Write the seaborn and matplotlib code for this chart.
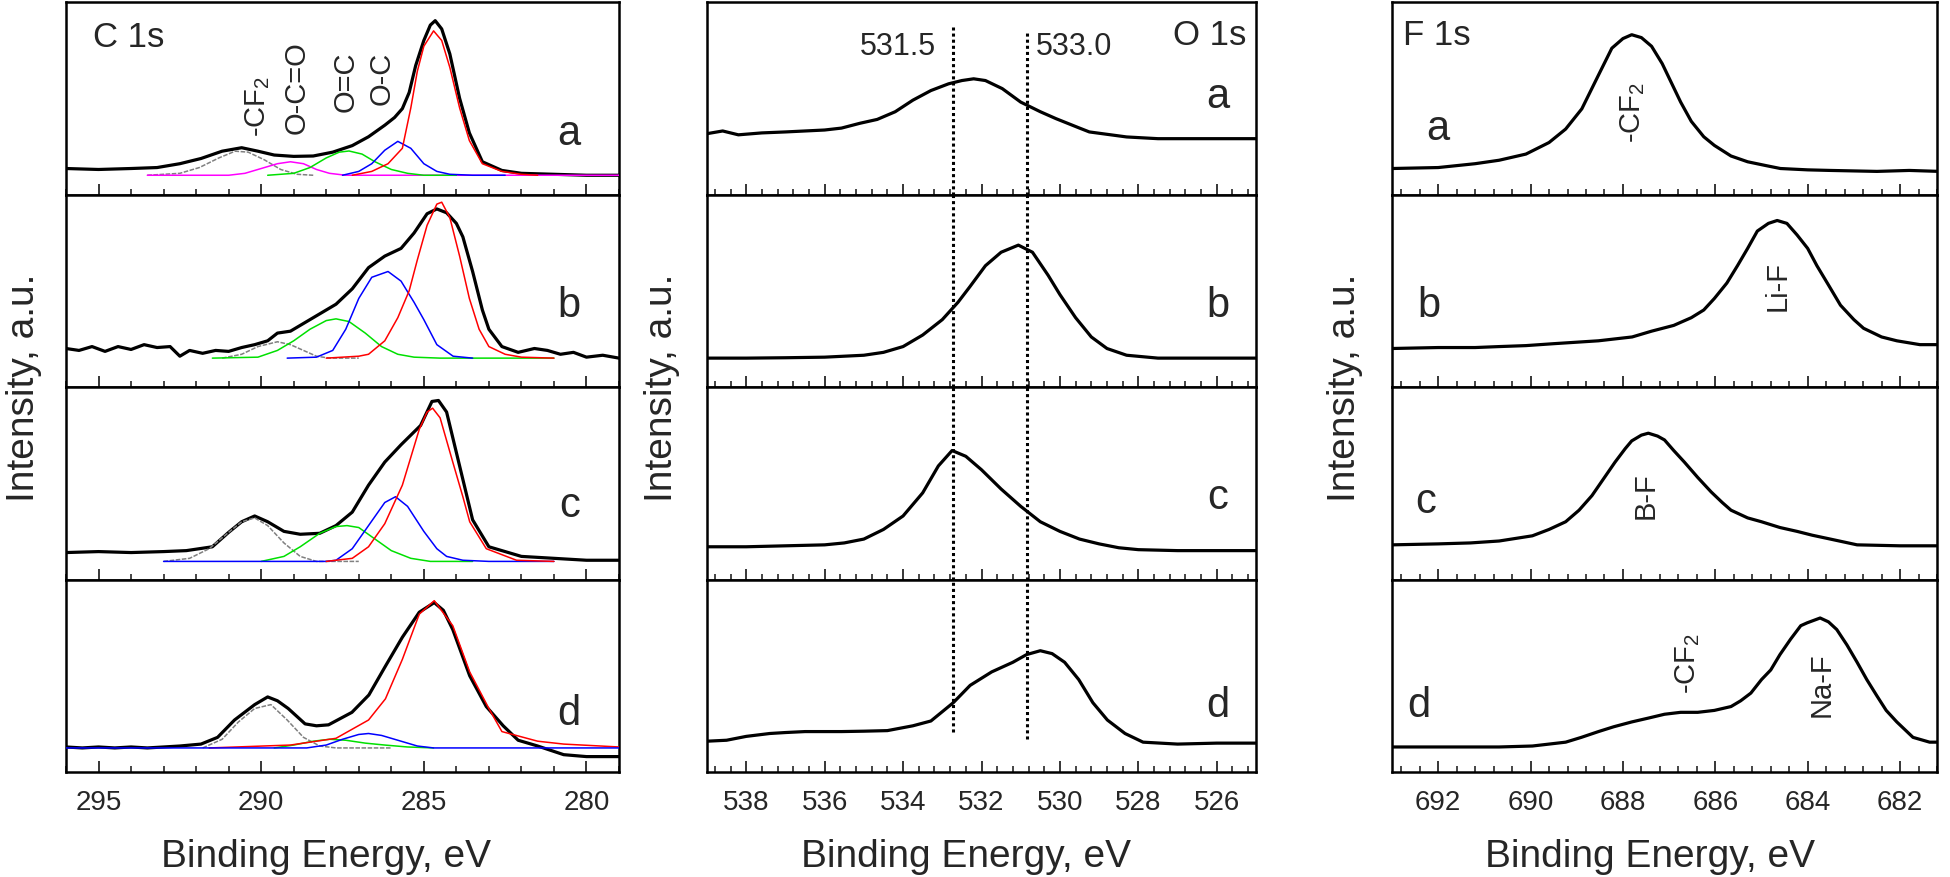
import matplotlib
matplotlib.use("Agg")
import matplotlib.pyplot as plt
from matplotlib.ticker import MultipleLocator
import seaborn as sns
import pandas as pd

# ---------------- C 1s (binding energy eV, intensity as fraction of panel) ----------------
C_A_EXP = [(296.0, 0.135), (295.0, 0.13), (294.0, 0.135), (293.2, 0.14), (292.5, 0.16), (291.85, 0.187),
           (291.2, 0.225), (290.6, 0.243), (290.1, 0.225), (289.6, 0.205), (289.0, 0.198), (288.4, 0.20),
           (287.8, 0.22), (287.2, 0.254), (286.7, 0.30), (286.2, 0.36), (285.9, 0.40), (285.66, 0.446),
           (285.45, 0.53), (285.25, 0.67), (285.0, 0.80), (284.8, 0.88), (284.65, 0.903), (284.45, 0.86),
           (284.2, 0.73), (283.9, 0.50), (283.6, 0.32), (283.2, 0.17), (282.6, 0.125), (282.0, 0.11),
           (281.0, 0.105), (280.0, 0.10), (279.0, 0.10)]
C_A_RED = [(287.2, 0.10), (286.6, 0.12), (286.1, 0.16), (285.66, 0.24), (285.4, 0.45), (285.2, 0.64),
           (285.0, 0.77), (284.7, 0.85), (284.45, 0.80), (284.2, 0.66), (283.9, 0.45), (283.6, 0.28),
           (283.2, 0.16), (282.6, 0.12), (282.0, 0.105), (281.5, 0.10)]
C_A_BLUE = [(287.5, 0.10), (287.0, 0.12), (286.6, 0.16), (286.2, 0.23), (285.8, 0.276), (285.4, 0.24),
            (285.0, 0.16), (284.6, 0.12), (284.2, 0.105), (283.5, 0.10), (282.5, 0.10)]
C_A_GREEN = [(289.8, 0.10), (289.0, 0.11), (288.5, 0.14), (288.0, 0.19), (287.6, 0.22), (287.3, 0.226),
             (286.9, 0.21), (286.5, 0.17), (286.0, 0.13), (285.5, 0.11), (285.0, 0.10), (284.0, 0.10)]
C_A_PINK = [(293.5, 0.10), (291.0, 0.10), (290.5, 0.11), (290.0, 0.135), (289.5, 0.16), (289.1, 0.17),
            (288.7, 0.16), (288.3, 0.13), (287.9, 0.11), (287.4, 0.10), (279.0, 0.10)]
C_A_GRAY = [(293.5, 0.10), (292.5, 0.11), (291.9, 0.14), (291.3, 0.19), (290.8, 0.225), (290.4, 0.22),
            (289.9, 0.18), (289.4, 0.13), (288.9, 0.105), (288.4, 0.10)]

C_B_EXP = [(296.0, 0.20), (295.6, 0.19), (295.2, 0.21), (294.8, 0.185), (294.4, 0.21), (294.0, 0.195),
           (293.6, 0.22), (293.2, 0.205), (292.8, 0.21), (292.5, 0.16), (292.2, 0.19), (291.8, 0.175),
           (291.4, 0.19), (291.0, 0.185), (290.6, 0.205), (290.2, 0.22), (289.8, 0.24), (289.5, 0.28),
           (289.1, 0.29), (288.7, 0.33), (288.3, 0.37), (288.0, 0.40), (287.7, 0.43), (287.2, 0.51),
           (286.7, 0.62), (286.2, 0.68), (285.7, 0.72), (285.3, 0.80), (284.9, 0.90), (284.6, 0.925),
           (284.3, 0.905), (284.0, 0.85), (283.8, 0.78), (283.5, 0.60), (283.2, 0.40), (283.0, 0.30),
           (282.6, 0.21), (282.1, 0.18), (281.6, 0.20), (281.2, 0.19), (280.8, 0.17), (280.4, 0.18),
           (280.0, 0.155), (279.5, 0.165), (279.0, 0.15)]
C_B_RED = [(288.0, 0.15), (287.0, 0.16), (286.7, 0.17), (286.2, 0.24), (285.8, 0.36), (285.45, 0.50),
           (285.2, 0.66), (284.9, 0.84), (284.6, 0.95), (284.45, 0.96), (284.2, 0.88), (283.9, 0.68),
           (283.6, 0.46), (283.3, 0.30), (283.0, 0.21), (282.5, 0.17), (282.0, 0.155), (281.0, 0.15)]
C_B_BLUE = [(289.2, 0.15), (288.3, 0.155), (287.8, 0.19), (287.4, 0.30), (287.0, 0.46), (286.6, 0.57),
            (286.1, 0.60), (285.7, 0.55), (285.3, 0.44), (285.0, 0.35), (284.6, 0.22), (284.1, 0.16),
            (283.5, 0.15)]
C_B_GREEN = [(291.5, 0.15), (290.1, 0.155), (289.5, 0.19), (289.0, 0.24), (288.5, 0.30), (288.0, 0.345),
             (287.7, 0.354), (287.3, 0.34), (286.8, 0.28), (286.3, 0.21), (285.8, 0.17), (285.3, 0.155),
             (284.5, 0.15), (281.0, 0.15)]
C_B_GRAY = [(291.2, 0.15), (290.6, 0.17), (290.1, 0.21), (289.5, 0.235), (289.1, 0.22), (288.7, 0.19),
            (288.3, 0.16), (287.9, 0.15), (287.0, 0.15)]

C_C_EXP = [(296.0, 0.14), (295.0, 0.145), (294.0, 0.14), (293.0, 0.145), (292.3, 0.15), (291.5, 0.17),
           (291.0, 0.245), (290.6, 0.30), (290.2, 0.33), (289.8, 0.30), (289.3, 0.25), (288.8, 0.235),
           (288.2, 0.24), (287.7, 0.28), (287.2, 0.35), (286.7, 0.49), (286.2, 0.61), (285.7, 0.70),
           (285.1, 0.80), (284.75, 0.925), (284.55, 0.93), (284.3, 0.87), (283.9, 0.59), (283.5, 0.31),
           (283.0, 0.17), (282.0, 0.12), (281.0, 0.11), (280.0, 0.10), (279.0, 0.10)]
C_C_RED = [(288.0, 0.094), (287.2, 0.11), (286.7, 0.17), (286.2, 0.29), (285.66, 0.49), (285.14, 0.78),
           (284.9, 0.87), (284.73, 0.89), (284.5, 0.84), (284.11, 0.61), (283.8, 0.43), (283.59, 0.30),
           (283.08, 0.16), (282.15, 0.10), (281.0, 0.094)]
C_C_BLUE = [(293.0, 0.094), (288.0, 0.094), (287.7, 0.10), (287.2, 0.16), (286.7, 0.28), (286.2, 0.40),
            (285.87, 0.43), (285.5, 0.38), (285.0, 0.25), (284.6, 0.16), (284.3, 0.12), (283.8, 0.10),
            (283.0, 0.094), (281.0, 0.094)]
C_C_GREEN = [(290.0, 0.094), (289.3, 0.12), (288.8, 0.17), (288.2, 0.24), (287.7, 0.275), (287.36, 0.28),
             (287.0, 0.27), (286.5, 0.21), (286.0, 0.15), (285.4, 0.11), (284.8, 0.094), (283.5, 0.094)]
C_C_GRAY = [(293.0, 0.094), (292.2, 0.11), (291.6, 0.16), (291.0, 0.245), (290.6, 0.30), (290.2, 0.32),
            (289.8, 0.28), (289.3, 0.19), (288.8, 0.12), (288.3, 0.094), (287.0, 0.094)]

C_D_EXP = [(296.0, 0.13), (295.5, 0.125), (295.0, 0.13), (294.5, 0.125), (294.0, 0.13), (293.5, 0.125),
           (293.0, 0.13), (292.5, 0.135), (291.85, 0.145), (291.34, 0.18), (290.82, 0.27), (290.2, 0.35),
           (289.8, 0.39), (289.5, 0.37), (289.17, 0.33), (288.65, 0.25), (288.3, 0.24), (287.93, 0.245),
           (287.21, 0.31), (286.69, 0.40), (286.18, 0.55), (285.66, 0.70), (285.14, 0.83), (284.68, 0.88),
           (284.4, 0.84), (284.11, 0.74), (283.59, 0.50), (283.08, 0.34), (282.56, 0.24), (282.1, 0.165),
           (281.5, 0.135), (280.7, 0.09), (280.0, 0.08), (279.0, 0.08)]
C_D_RED = [(291.6, 0.125), (289.1, 0.14), (287.7, 0.175), (286.7, 0.27), (286.18, 0.38), (285.66, 0.585),
           (285.14, 0.82), (284.68, 0.89), (284.11, 0.76), (283.59, 0.52), (283.0, 0.33), (282.6, 0.21),
           (281.5, 0.16), (280.7, 0.145), (279.0, 0.13)]
C_D_BLUE = [(296.0, 0.125), (288.6, 0.125), (288.0, 0.14), (287.5, 0.17), (287.0, 0.195), (286.7, 0.20),
            (286.3, 0.19), (285.8, 0.165), (285.2, 0.135), (284.7, 0.125), (279.0, 0.125)]
C_D_GREEN = [(289.6, 0.125), (289.0, 0.14), (288.4, 0.16), (287.9, 0.17), (287.4, 0.165), (286.8, 0.15),
             (286.2, 0.14), (285.5, 0.13), (284.7, 0.125)]
C_D_GRAY = [(291.8, 0.125), (291.2, 0.17), (290.7, 0.26), (290.2, 0.33), (289.7, 0.35), (289.2, 0.27),
            (288.7, 0.18), (288.2, 0.135), (287.7, 0.125), (286.0, 0.125)]

# ---------------- O 1s ----------------
O_A = [(539.0, 0.316), (538.6, 0.33), (538.2, 0.31), (537.6, 0.32), (537.0, 0.325), (536.5, 0.33),
       (536.0, 0.335), (535.57, 0.345), (535.1, 0.37), (534.66, 0.39), (534.2, 0.43), (533.75, 0.49),
       (533.29, 0.54), (532.84, 0.575), (532.5, 0.592), (532.2, 0.601), (531.9, 0.592), (531.47, 0.55),
       (531.0, 0.48), (530.83, 0.463), (530.5, 0.43), (530.1, 0.394), (529.5, 0.345), (529.25, 0.325),
       (528.3, 0.299), (527.5, 0.29), (526.5, 0.29), (525.0, 0.29)]
O_B = [(539.0, 0.15), (538.0, 0.15), (537.0, 0.152), (536.0, 0.155), (535.0, 0.165), (534.5, 0.18),
       (534.0, 0.21), (533.5, 0.27), (533.0, 0.35), (532.6, 0.44), (532.3, 0.52), (531.9, 0.63),
       (531.5, 0.70), (531.06, 0.737), (530.7, 0.70), (530.3, 0.58), (530.0, 0.48), (529.6, 0.36),
       (529.2, 0.26), (528.8, 0.20), (528.3, 0.165), (527.5, 0.15), (526.5, 0.15), (525.0, 0.15)]
O_C = [(539.0, 0.17), (538.0, 0.17), (537.0, 0.175), (536.0, 0.18), (535.5, 0.19), (535.0, 0.21),
       (534.5, 0.26), (534.0, 0.33), (533.5, 0.45), (533.1, 0.59), (532.75, 0.67), (532.4, 0.64),
       (532.0, 0.57), (531.5, 0.47), (531.0, 0.38), (530.5, 0.30), (530.0, 0.25), (529.5, 0.21),
       (529.0, 0.185), (528.5, 0.165), (528.0, 0.155), (527.0, 0.15), (526.0, 0.15), (525.0, 0.15)]
O_D = [(539.0, 0.16), (538.5, 0.165), (538.0, 0.185), (537.4, 0.20), (537.0, 0.205), (536.5, 0.21),
       (536.0, 0.21), (535.57, 0.21), (535.0, 0.212), (534.4, 0.215), (533.75, 0.24), (533.29, 0.265),
       (532.72, 0.36), (532.29, 0.45), (531.74, 0.52), (531.2, 0.57), (530.85, 0.61), (530.5, 0.63),
       (530.2, 0.615), (529.88, 0.57), (529.52, 0.48), (529.16, 0.36), (528.79, 0.27), (528.34, 0.20),
       (527.88, 0.155), (527.0, 0.145), (526.0, 0.15), (525.0, 0.15)]
O_MARKS = [532.72, 530.83]
O_MARK_TEXT = ["531.5", "533.0"]

# ---------------- F 1s ----------------
F_A = [(693.0, 0.135), (692.0, 0.14), (691.2, 0.16), (690.68, 0.178), (690.1, 0.21), (689.6, 0.27),
       (689.24, 0.34), (688.89, 0.445), (688.53, 0.62), (688.24, 0.76), (688.0, 0.81), (687.81, 0.83),
       (687.6, 0.815), (687.38, 0.77), (687.15, 0.68), (686.95, 0.58), (686.75, 0.48), (686.52, 0.38),
       (686.25, 0.30), (686.02, 0.255), (685.66, 0.20), (685.3, 0.17), (684.9, 0.15), (684.59, 0.135),
       (684.0, 0.128), (683.51, 0.125), (682.5, 0.12), (681.8, 0.125), (681.15, 0.12)]
F_B = [(693.0, 0.20), (692.0, 0.205), (691.2, 0.205), (690.68, 0.21), (690.1, 0.215), (689.5, 0.225),
       (688.53, 0.24), (687.8, 0.26), (687.38, 0.29), (686.9, 0.32), (686.52, 0.36), (686.25, 0.40),
       (686.02, 0.46), (685.75, 0.54), (685.52, 0.63), (685.3, 0.72), (685.09, 0.81), (684.85, 0.85),
       (684.66, 0.865), (684.45, 0.85), (684.23, 0.79), (684.0, 0.72), (683.8, 0.63), (683.55, 0.53),
       (683.29, 0.425), (683.0, 0.35), (682.79, 0.305), (682.4, 0.26), (682.07, 0.24), (681.57, 0.22),
       (681.15, 0.22)]
F_C = [(693.0, 0.18), (692.0, 0.185), (691.3, 0.19), (690.68, 0.20), (689.96, 0.227), (689.6, 0.26),
       (689.24, 0.30), (688.95, 0.36), (688.67, 0.436), (688.4, 0.53), (688.17, 0.61), (687.95, 0.68),
       (687.81, 0.72), (687.6, 0.75), (687.45, 0.76), (687.25, 0.745), (687.1, 0.725), (686.9, 0.67),
       (686.67, 0.61), (686.38, 0.53), (686.09, 0.455), (685.85, 0.40), (685.66, 0.36), (685.3, 0.32),
       (685.0, 0.30), (684.6, 0.27), (684.23, 0.25), (683.9, 0.23), (683.51, 0.21), (682.93, 0.18),
       (682.0, 0.175), (681.15, 0.175)]
F_D = [(693.0, 0.13), (692.0, 0.13), (691.3, 0.13), (690.68, 0.13), (689.96, 0.135), (689.24, 0.155),
       (688.9, 0.18), (688.53, 0.21), (688.2, 0.235), (687.81, 0.26), (687.45, 0.28), (687.1, 0.30),
       (686.75, 0.31), (686.38, 0.31), (686.02, 0.32), (685.66, 0.34), (685.45, 0.37), (685.23, 0.41),
       (685.0, 0.48), (684.8, 0.53), (684.6, 0.61), (684.37, 0.69), (684.15, 0.76), (684.01, 0.775),
       (683.73, 0.80), (683.55, 0.78), (683.37, 0.74), (683.15, 0.66), (682.93, 0.57), (682.72, 0.48),
       (682.5, 0.395), (682.3, 0.32), (682.07, 0.26), (681.72, 0.18), (681.36, 0.155), (681.15, 0.155)]

SAMPLES = ["a", "b", "c", "d"]

# fitted component colours
RED, BLUE, GREEN, PINK, GRAY = "#ff0000", "#0000ff", "#00e000", "#ff00ff", "#808080"

sns.set_style("white")
plt.rcParams["font.family"] = ["Liberation Sans", "DejaVu Sans"]
plt.rcParams["mathtext.default"] = "regular"

W, H = 1950, 878
fig = plt.figure(figsize=(W / 100, H / 100), dpi=100)

cols_px = [(66, 619), (707, 1256), (1392, 1937)]
top_px, panel_px = 3, 192.5


def make_axes(col):
    x0, x1 = cols_px[col]
    axs = []
    for i in range(4):
        bottom = 1 - (top_px + panel_px * (i + 1)) / H
        axs.append(fig.add_axes([x0 / W, bottom, (x1 - x0) / W, panel_px / H]))
    return axs


def draw(ax, pts, color="black", lw=2.3, ls="-"):
    df = pd.DataFrame(pts, columns=["be", "cps"])
    sns.lineplot(data=df, x="be", y="cps", ax=ax, color=color, lw=lw, ls=ls,
                 sort=False, estimator=None, zorder=3 if color == "black" else 4)


def style(ax, xlim, major, minor, last):
    ax.set_xlim(*xlim)
    ax.set_ylim(0, 1)
    ax.set_yticks([])
    ax.set_xlabel("")
    ax.set_ylabel("")
    ax.xaxis.set_major_locator(MultipleLocator(major))
    ax.xaxis.set_minor_locator(MultipleLocator(minor))
    ax.tick_params(axis="x", which="major", direction="in", length=8, width=1.3,
                   labelsize=20, pad=12, labelbottom=last, bottom=True)
    ax.tick_params(axis="x", which="minor", direction="in", length=4, width=1.2, bottom=True)
    for s in ax.spines.values():
        s.set_linewidth(1.8)
        s.set_color("black")


def letter(ax, x, y, s):
    ax.text(x, y, s, transform=ax.transAxes, fontsize=30, ha="center", va="baseline")


# ---- C 1s column ----
c_axes = make_axes(0)
c_sets = [
    (C_A_EXP, [(C_A_GRAY, GRAY), (C_A_PINK, PINK), (C_A_GREEN, GREEN), (C_A_BLUE, BLUE), (C_A_RED, RED)]),
    (C_B_EXP, [(C_B_GRAY, GRAY), (C_B_GREEN, GREEN), (C_B_BLUE, BLUE), (C_B_RED, RED)]),
    (C_C_EXP, [(C_C_GRAY, GRAY), (C_C_GREEN, GREEN), (C_C_BLUE, BLUE), (C_C_RED, RED)]),
    (C_D_EXP, [(C_D_GRAY, GRAY), (C_D_GREEN, GREEN), (C_D_RED, RED), (C_D_BLUE, BLUE)]),
]
c_letter_y = [0.264, 0.37, 0.33, 0.25]
for i, ax in enumerate(c_axes):
    exp, comps = c_sets[i]
    draw(ax, exp)
    for pts, col in comps:
        draw(ax, pts, color=col, lw=1.1, ls=(0, (3, 1)) if col == GRAY else "-")
    style(ax, (296, 279), 5, 1, i == 3)
    letter(ax, 0.91, c_letter_y[i], SAMPLES[i])
c_axes[0].text(0.049, 0.77, "C 1s", transform=c_axes[0].transAxes, fontsize=25, va="baseline")
for be, y, lab in [(290.1, 0.46, "-CF$_2$"), (288.9, 0.56, "O-C=O"), (287.4, 0.59, "O=C"), (286.3, 0.61, "O-C")]:
    c_axes[0].text(be, y, lab, rotation=90, fontsize=21, ha="center", va="center")

# ---- O 1s column ----
o_axes = make_axes(1)
o_letter_y = [0.455, 0.37, 0.37, 0.29]
o_spans = [[(0, 0.87), (0, 0.845)], [(0, 1), (0, 1)], [(0, 1), (0, 1)], [(0.21, 1), (0.17, 1)]]
for i, (ax, pts) in enumerate(zip(o_axes, [O_A, O_B, O_C, O_D])):
    draw(ax, pts)
    for be, (y0, y1) in zip(O_MARKS, o_spans[i]):
        ax.axvline(be, ymin=y0, ymax=y1, color="black", lw=2.2, ls=(0, (1, 1)), clip_on=False, zorder=2)
    style(ax, (539, 525), 2, 0.4, i == 3)
    letter(ax, 0.93, o_letter_y[i], SAMPLES[i])
o_axes[0].text(533.16, 0.73, O_MARK_TEXT[0], fontsize=22, ha="right", va="baseline")
o_axes[0].text(530.61, 0.73, O_MARK_TEXT[1], fontsize=22, ha="left", va="baseline")
o_axes[0].text(0.982, 0.78, "O 1s", transform=o_axes[0].transAxes, fontsize=25, ha="right", va="baseline")

# ---- F 1s column ----
f_axes = make_axes(2)
f_letter_x = [0.084, 0.067, 0.062, 0.05]
f_letter_y = [0.29, 0.37, 0.35, 0.29]
for i, (ax, pts) in enumerate(zip(f_axes, [F_A, F_B, F_C, F_D])):
    draw(ax, pts)
    style(ax, (693, 681.2), 2, 0.4, i == 3)
    letter(ax, f_letter_x[i], f_letter_y[i], SAMPLES[i])
f_axes[0].text(0.021, 0.78, "F 1s", transform=f_axes[0].transAxes, fontsize=25, va="baseline")
f_axes[0].text(687.8, 0.43, "-CF$_2$", rotation=90, fontsize=21, ha="center", va="center")
f_axes[1].text(684.65, 0.53, "Li-F", rotation=90, fontsize=21, ha="center", va="center")
f_axes[2].text(687.5, 0.44, "B-F", rotation=90, fontsize=21, ha="center", va="center")
f_axes[3].text(686.6, 0.57, "-CF$_2$", rotation=90, fontsize=21, ha="center", va="center")
f_axes[3].text(683.7, 0.46, "Na-F", rotation=90, fontsize=21, ha="center", va="center")

# shared axis titles
mid_y = 1 - (top_px + 2 * panel_px) / H
for xpx in [24, 662, 1345]:
    fig.text(xpx / W, mid_y, "Intensity, a.u.", rotation=90, fontsize=28, ha="center", va="center")
for xpx in [326, 966, 1650]:
    fig.text(xpx / W, 1 - 857 / H, "Binding Energy, eV", fontsize=28, ha="center", va="center")

fig.savefig("out.png", dpi=100)
